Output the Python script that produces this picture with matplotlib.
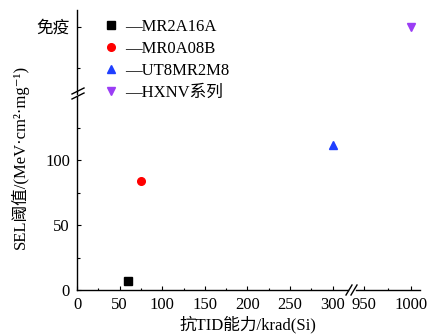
import matplotlib
matplotlib.use("Agg")
import matplotlib.pyplot as plt
from matplotlib.lines import Line2D

plt.rcParams["font.family"] = ["Liberation Serif", "DejaVu Serif", "Noto Sans CJK SC"]
plt.rcParams["font.size"] = 12

# data
names = ["MR2A16A", "MR0A08B", "UT8MR2M8", "HXNV系列"]
tid = [60, 75, 300, 1000]            # krad(Si)
sel = [7, 84, 112, None]             # None -> 免疫 (immune)
colors = ["#000000", "#FF0000", "#1F3FFF", "#9B3DF5"]
markers = ["s", "o", "^", "v"]
msizes = [5.2, 5.5, 6, 6]

W, H = 430, 336
fig = plt.figure(figsize=(W / 100, H / 100), dpi=100)


def box(x0, y_top, x1, y_bot):
    # pixel box -> figure fraction rect
    return [x0 / W, 1 - y_bot / H, (x1 - x0) / W, (y_bot - y_top) / H]


ax_ll = fig.add_axes(box(77, 97, 348, 290))
ax_lr = fig.add_axes(box(356, 97, 420, 290))
ax_ul = fig.add_axes(box(77, 10, 348, 94))
ax_ur = fig.add_axes(box(356, 10, 420, 94))

for ax in (ax_ll, ax_lr, ax_ul, ax_ur):
    ax.set_facecolor("none")
    for s in ax.spines.values():
        s.set_visible(False)
        s.set_linewidth(1.0)
    ax.tick_params(which="both", direction="in", width=0.8, labelsize=12, pad=5)
    ax.tick_params(which="major", length=3.2)
    ax.tick_params(which="minor", length=1.8)

ax_ll.spines["left"].set_visible(True)
ax_ll.spines["bottom"].set_visible(True)
ax_lr.spines["bottom"].set_visible(True)
ax_ul.spines["left"].set_visible(True)

ax_ll.set_xlim(0, 318)
ax_lr.set_xlim(942, 1009)
ax_ul.set_xlim(0, 318)
ax_ur.set_xlim(942, 1009)
ax_ll.set_ylim(0, 149)
ax_lr.set_ylim(0, 149)
ax_ul.set_ylim(0.183, 1.207)
ax_ur.set_ylim(0.183, 1.207)

ax_ll.set_xticks([0, 50, 100, 150, 200, 250, 300])
ax_ll.set_xticks([25, 75, 125, 175, 225, 275], minor=True)
ax_ll.set_yticks([0, 50, 100])
ax_ll.set_yticks([25, 75, 125], minor=True)
ax_lr.set_xticks([950, 1000])
ax_lr.set_xticks([975], minor=True)
ax_lr.set_yticks([])
ax_ul.set_xticks([])
ax_ul.set_yticks([1])
ax_ul.set_yticklabels(["免疫"])
ax_ul.set_yticks([0.5], minor=True)
ax_ur.set_xticks([])
ax_ur.set_yticks([])

handles = []
for n, x, y, c, m, ms in zip(names, tid, sel, colors, markers, msizes):
    if y is None:
        ax_ur.plot(x, 1, m, color=c, ms=ms, clip_on=False)
    else:
        ax_ll.plot(x, y, m, color=c, ms=ms, clip_on=False)
    handles.append(Line2D([], [], ls="none", marker=m, color=c, ms=ms, label="—" + n))

fig.legend(handles=handles, loc="upper left", bbox_to_anchor=(104 / W, 1 - 19 / H),
           frameon=False, fontsize=12, handlelength=0.8, handletextpad=0.45,
           labelspacing=0.35, borderaxespad=0, borderpad=0)


# break marks
def brk(x0, y0, x1, y1):
    fig.add_artist(Line2D([x0 / W, x1 / W], [1 - y0 / H, 1 - y1 / H],
                          color="black", lw=1.0, transform=fig.transFigure))


brk(72, 99, 84, 93)
brk(72, 94, 84, 88)
brk(346, 295, 352, 285)
brk(351, 295, 357, 285)

fig.text(248 / W, 1 - 325 / H, "抗TID能力/krad(Si)", ha="center", va="center", fontsize=12)
fig.text(20 / W, 1 - 157 / H, "SEL阈值/(MeV·cm²·mg⁻¹)", ha="center", va="center",
         rotation=90, fontsize=12)

fig.savefig("out.png", dpi=100)
